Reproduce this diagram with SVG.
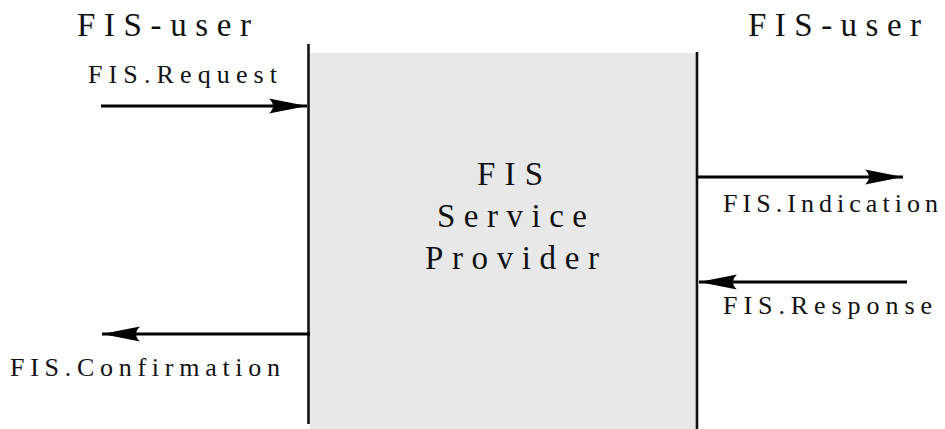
<svg xmlns="http://www.w3.org/2000/svg" width="945" height="429" viewBox="0 0 945 429">
  <style>
    text { font-family: 'Liberation Serif', 'Times New Roman', serif; fill: #111; }
    .big { font-size: 33px; }
    .small { font-size: 26px; }
    .edge { stroke: #000; stroke-width: 3; fill: none; }
    .bound { stroke: #111; stroke-width: 2.6; }
  </style>
  <defs>
    <marker id="head" viewBox="-40 -9 42 18" refX="0" refY="0" markerWidth="42" markerHeight="18" markerUnits="userSpaceOnUse" orient="auto">
      <path d="M0,0 L-38,-7.5 Q-30,0 -38,7.5 Z" fill="#000"/>
    </marker>
  </defs>
  <rect width="945" height="429" fill="#fff"/>

  <!-- service provider box with its two boundary lines -->
  <g id="provider">
    <rect x="310" y="53" width="387" height="376" fill="#e8e8e8"/>
    <line class="bound" x1="308.5" y1="44" x2="308.5" y2="424"/>
    <line class="bound" x1="697" y1="52" x2="697" y2="429"/>
    <text class="big" x="477" y="185" textLength="66" lengthAdjust="spacing">FIS</text>
    <text class="big" x="437" y="227" textLength="150" lengthAdjust="spacing">Service</text>
    <text class="big" x="425" y="269" textLength="174" lengthAdjust="spacing">Provider</text>
  </g>

  <g id="user-left">
    <text class="big" x="77" y="36" textLength="174" lengthAdjust="spacing">FIS-user</text>
  </g>
  <g id="user-right">
    <text class="big" x="748" y="36" textLength="173" lengthAdjust="spacing">FIS-user</text>
  </g>

  <!-- service primitives -->
  <g id="connectors">
    <line class="edge" x1="101" y1="106" x2="307" y2="106" marker-end="url(#head)"/>
    <line class="edge" x1="697" y1="177" x2="903" y2="177" marker-end="url(#head)"/>
    <line class="edge" x1="907" y1="282" x2="699" y2="282" marker-end="url(#head)"/>
    <line class="edge" x1="310" y1="334" x2="102" y2="334" marker-end="url(#head)"/>
  </g>

  <g id="labels">
    <text class="small" x="88" y="83" textLength="189" lengthAdjust="spacing">FIS.Request</text>
    <text class="small" x="723" y="212" textLength="215" lengthAdjust="spacing">FIS.Indication</text>
    <text class="small" x="723" y="314" textLength="209" lengthAdjust="spacing">FIS.Response</text>
    <text class="small" x="10" y="376" textLength="270" lengthAdjust="spacing">FIS.Confirmation</text>
  </g>
</svg>
